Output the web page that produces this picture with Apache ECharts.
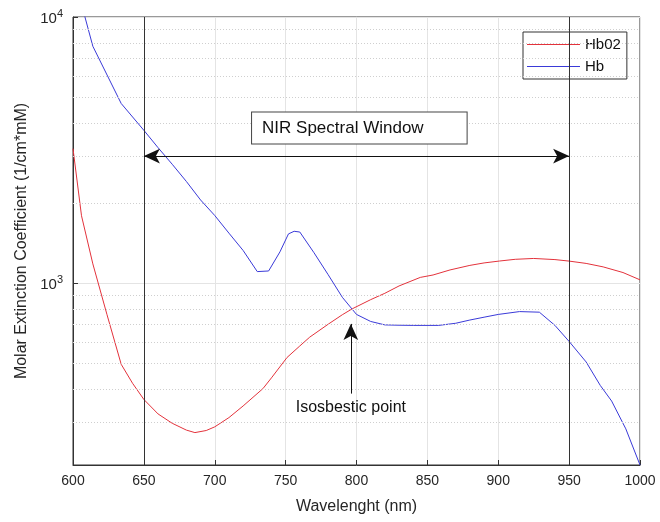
<!DOCTYPE html>
<html>
<head>
<meta charset="utf-8">
<script src="https://cdn.jsdelivr.net/npm/echarts@6/dist/echarts.min.js"></script>
<style>
  html, body { margin: 0; padding: 0; background: #fff; }
  #chart { width: 660px; height: 522px; }
</style>
</head>
<body>
<div id="chart"></div>
<script>
// wavelengths (nm) and molar extinction coefficients
var hbo2Wl = [600, 606, 614, 624, 634, 642, 650, 660, 670, 680, 686, 694, 700, 710, 720, 734, 740, 751, 760, 767,
  780, 790, 797, 810, 820, 830, 845, 854, 866, 880, 890, 901, 912, 925, 940, 950, 962, 974, 988, 1000];
var hbo2 = [3200, 1790, 1180, 760, 495, 420, 365, 322, 297, 280, 274, 279, 288, 312, 345, 401, 440, 525, 580, 626,
  700, 760, 800, 866, 915, 975, 1050, 1072, 1120, 1165, 1190, 1210, 1228, 1237, 1225, 1209, 1185, 1150, 1095, 1028];

var hbWl = [600, 614, 634, 650, 660, 670, 680, 690, 700, 710, 720, 730, 738, 746, 752, 756, 760, 770, 780, 790,
  800, 810, 820, 830, 840, 858, 870, 880, 890, 900, 915, 929, 940, 950, 962, 972, 980, 990, 1000];
var hb = [14677, 7762, 4730, 3750, 3227, 2795, 2408, 2052, 1794, 1540, 1326, 1104, 1110, 1310, 1530, 1565, 1555, 1300, 1075, 884,
  762, 717, 696, 694, 693, 693, 706, 726, 744, 762, 781, 777, 693, 603, 505, 412, 360, 283, 207];

var xTicks = [600, 650, 700, 750, 800, 850, 900, 950, 1000];
var minorGrid = [300, 400, 500, 600, 700, 800, 900, 2000, 3000, 4000, 5000, 6000, 7000, 8000, 9000];

// annotations
var nirEdges = [650, 950];
var arrowLevel = 3000;
var isoWl = 796;
var isoRange = [384, 702];
var boxAt = [802, 3830];

function pairs(xs, ys) {
  return xs.map(function (x, i) { return [x, ys[i]]; });
}

var font = "'Liberation Sans', Arial, sans-serif";
var lineIcon = 'path://M0,0 L53,0 L53,1 L0,1 Z';
var chart = echarts.init(document.getElementById('chart'), null, { renderer: 'canvas' });

chart.setOption({
  animation: false,
  textStyle: { fontFamily: font },
  grid: { left: 73, right: 20, top: 17, bottom: 57, show: true, borderColor: '#333', borderWidth: 1 },
  legend: {
    data: [{ name: 'Hb02', icon: lineIcon }, { name: 'Hb', icon: lineIcon }],
    orient: 'vertical',
    left: 523, top: 32,
    itemWidth: 53, itemHeight: 14, itemGap: 7,
    padding: [5, 6, 5, 4],
    borderColor: '#333', borderWidth: 1,
    textStyle: { fontSize: 15, color: '#111', fontFamily: font }
  },
  xAxis: {
    type: 'value',
    min: xTicks[0], max: xTicks[xTicks.length - 1], interval: 50,
    name: 'Wavelenght (nm)', nameLocation: 'middle', nameGap: 34,
    nameTextStyle: { fontSize: 16, color: '#262626' },
    axisLine: { lineStyle: { color: '#333' } },
    axisTick: { inside: true, length: 5, lineStyle: { color: '#333' } },
    axisLabel: { fontSize: 14, color: '#262626', margin: 9, formatter: function (v) { return String(v); } },
    splitLine: { show: true, lineStyle: { color: '#e4e4e4', width: 1 } }
  },
  yAxis: {
    type: 'log', logBase: 10,
    min: 207, max: 10000,
    name: 'Molar Extinction Coefficient (1/cm*mM)', nameLocation: 'middle', nameGap: 42,
    nameTextStyle: { fontSize: 16, color: '#262626' },
    axisLine: { lineStyle: { color: '#333' } },
    axisTick: { inside: true, length: 5, lineStyle: { color: '#333' } },
    axisLabel: {
      margin: 10, color: '#262626', showMinLabel: false,
      formatter: function (v) {
        var e = Math.log10(v);
        if (Math.abs(e - Math.round(e)) > 1e-6) return '';
        return '{b|10}{s|' + Math.round(e) + '}';
      },
      rich: {
        b: { fontSize: 15, color: '#262626', lineHeight: 18, verticalAlign: 'bottom' },
        s: { fontSize: 11, color: '#262626', lineHeight: 18, verticalAlign: 'top' }
      }
    },
    splitLine: { show: true, lineStyle: { color: '#e4e4e4', width: 1 } }
  },
  series: [
    {
      // minor log grid
      type: 'line', data: [], silent: true, z: 1,
      markLine: {
        silent: true, symbol: 'none', label: { show: false },
        lineStyle: { color: '#cfcfcf', type: [1, 2], width: 1 },
        data: minorGrid.map(function (v) { return { yAxis: v }; })
      }
    },
    {
      name: 'Hb02', type: 'line', data: pairs(hbo2Wl, hbo2),
      symbol: 'none', smooth: false, z: 3,
      lineStyle: { color: '#e3323b', width: 1 }, itemStyle: { color: '#e3323b' }
    },
    {
      name: 'Hb', type: 'line', data: pairs(hbWl, hb),
      symbol: 'none', smooth: false, z: 3,
      lineStyle: { color: '#3a3ad8', width: 1 }, itemStyle: { color: '#3a3ad8' }
    },
    {
      // annotations
      type: 'line', data: [], z: 4, silent: true,
      markLine: {
        silent: true, symbol: 'none', animation: false,
        lineStyle: { color: '#333', type: 'solid', width: 1 },
        label: { show: false },
        data: [
          { xAxis: nirEdges[0] },
          { xAxis: nirEdges[1] },
          [
            { coord: [nirEdges[0], arrowLevel], symbol: 'arrow', symbolSize: [11, 16] },
            { coord: [nirEdges[1], arrowLevel], symbol: 'arrow', symbolSize: [11, 16],
              lineStyle: { color: '#111', width: 1 } }
          ],
          [
            { coord: [isoWl, isoRange[0]], symbol: 'none',
              label: { show: true, position: 'start', formatter: 'Isosbestic point',
                fontSize: 16, color: '#111', distance: 6 } },
            { coord: [isoWl, isoRange[1]], symbol: 'arrow', symbolSize: [11, 16],
              lineStyle: { color: '#111', width: 1 } }
          ]
        ]
      },
      markPoint: {
        silent: true, symbol: 'rect', symbolSize: 0,
        label: {
          show: true, position: 'inside', formatter: 'NIR Spectral Window',
          fontSize: 17, color: '#111', borderColor: '#444', borderWidth: 1,
          padding: [7, 43, 7, 10], backgroundColor: '#fff'
        },
        data: [{ coord: boxAt }]
      }
    }
  ]
});
</script>
</body>
</html>
